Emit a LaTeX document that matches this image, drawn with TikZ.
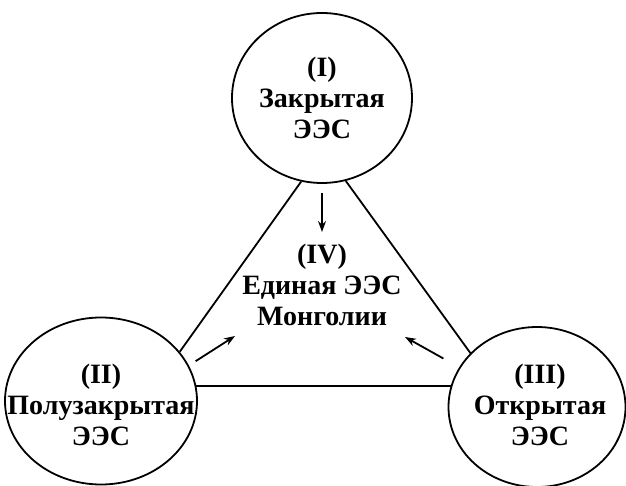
\documentclass[tikz,border=0pt]{standalone}
\usepackage{fontspec}
\setmainfont{Liberation Serif}
\usetikzlibrary{shapes.geometric,arrows.meta}
\begin{document}
\begin{tikzpicture}[x = 1pt, y = -1pt, line width = 1.8pt,
                        ees/.style = {ellipse, draw, inner sep = 0pt},
                        lbl/.style = {align = center, inner sep = 2pt, font = \fontsize{28}{31}\selectfont\bfseries},
                        arr/.style = {-{Stealth[length = 11pt, width = 8pt]}}]
      \useasboundingbox (0, 0) rectangle (626, 486);
      \node [ees, minimum width = 180pt, minimum height = 170pt] (e1) at (322, 98){};
      \node [ees, minimum width = 192pt, minimum height = 167pt] (e2) at (101, 401){};
      \node [ees, minimum width = 177pt, minimum height = 160pt] (e3) at (537, 407){};
      \node [lbl] (t1) at (e1){(I)\\Закрытая\\ЭЭС};
      \node [lbl] (t2) at (101, 405){(II)\\Полузакрытая\\ЭЭС};
      \node [lbl] (t3) at (540, 405){(III)\\Открытая\\ЭЭС};
      \node [lbl] (t4) at (322, 285){(IV)\\Единая ЭЭС\\Монголии};
      \coordinate (a1) at (322, 232);
      \coordinate (a2) at (235, 336);
      \coordinate (a3) at (405, 337);
      \draw (e1.256) -- (e2.32.5);
      \draw (e1.286) -- (e3.141.4);
      \draw (e2.9.6) -- (e2.9.6 -| e3.165.6);
      \draw [arr, shorten <= 9pt] (e1.south) -- (a1);
      \draw [arr, shorten <= 8pt] (e2.22) -- (a2);
      \draw [arr, shorten <= 18pt] (e3.153.4) -- (a3);
    \end{tikzpicture}
\end{document}
